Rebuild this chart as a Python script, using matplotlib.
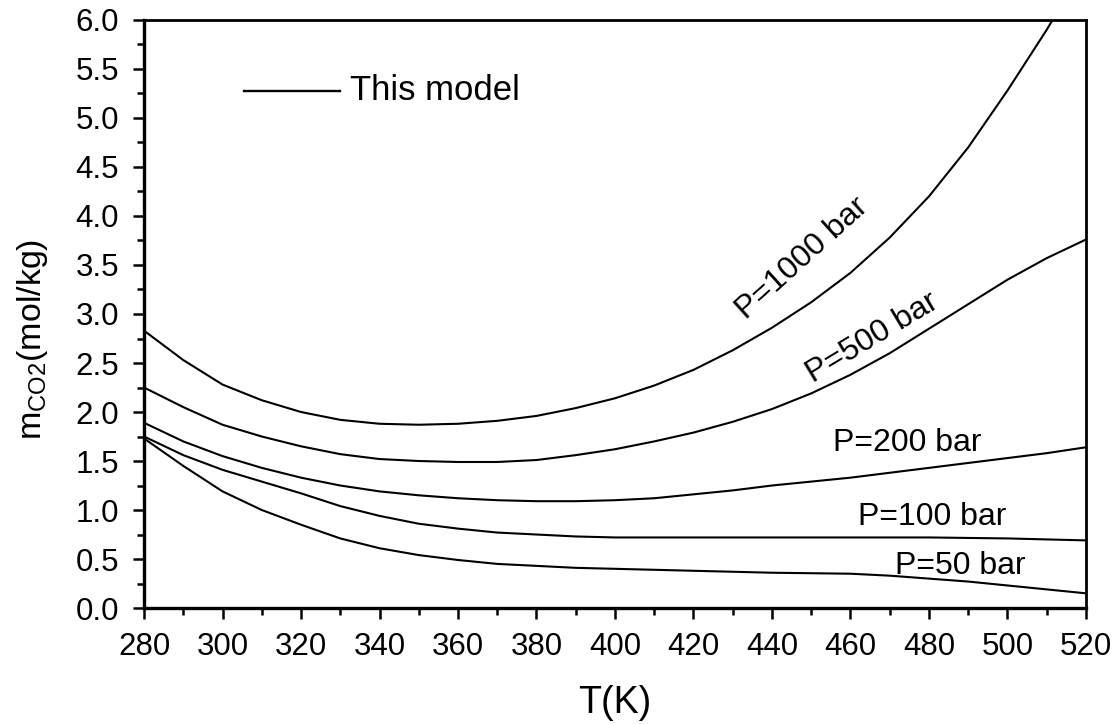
import matplotlib
matplotlib.use("Agg")
import matplotlib.pyplot as plt
from matplotlib.ticker import MultipleLocator, FormatStrFormatter

plt.rcParams['font.family'] = ['Liberation Sans', 'DejaVu Sans']
plt.rcParams['mathtext.default'] = 'regular'

# CO2 solubility in water vs temperature at several pressures
T_1000 = [280, 290, 300, 310, 320, 330, 340, 350, 360, 370, 380, 390, 400,
          410, 420, 430, 440, 450, 460, 470, 480, 490, 500, 510, 513]
m_1000 = [2.83, 2.53, 2.28, 2.12, 2.00, 1.92, 1.88, 1.87, 1.88, 1.91, 1.96, 2.04, 2.14,
          2.27, 2.43, 2.63, 2.86, 3.12, 3.42, 3.78, 4.20, 4.70, 5.28, 5.90, 6.10]

T_500 = [280, 290, 300, 310, 320, 330, 340, 350, 360, 370, 380, 390, 400,
         410, 420, 430, 440, 450, 460, 470, 480, 490, 500, 510, 520]
m_500 = [2.25, 2.05, 1.87, 1.75, 1.65, 1.57, 1.52, 1.50, 1.49, 1.49, 1.51, 1.56, 1.62,
         1.70, 1.79, 1.90, 2.03, 2.19, 2.38, 2.60, 2.85, 3.10, 3.35, 3.57, 3.76]

T_200 = T_500
m_200 = [1.89, 1.70, 1.55, 1.43, 1.33, 1.25, 1.19, 1.15, 1.12, 1.10, 1.09, 1.09, 1.10,
         1.12, 1.16, 1.20, 1.25, 1.29, 1.33, 1.38, 1.43, 1.48, 1.53, 1.58, 1.64]

T_100 = [280, 290, 300, 310, 320, 330, 340, 350, 360, 370, 380, 390, 400,
         420, 440, 460, 480, 500, 520]
m_100 = [1.75, 1.56, 1.41, 1.29, 1.17, 1.04, 0.94, 0.86, 0.81, 0.77, 0.75, 0.73, 0.72,
         0.72, 0.72, 0.72, 0.72, 0.71, 0.69]

T_50 = [280, 290, 300, 310, 320, 330, 340, 350, 360, 370, 380, 390, 400,
        420, 440, 460, 470, 480, 490, 500, 510, 520]
m_50 = [1.73, 1.45, 1.19, 1.00, 0.85, 0.71, 0.61, 0.54, 0.49, 0.45, 0.43, 0.41, 0.40,
        0.38, 0.36, 0.35, 0.33, 0.30, 0.27, 0.23, 0.19, 0.15]

curves = [(T_1000, m_1000), (T_500, m_500), (T_200, m_200), (T_100, m_100), (T_50, m_50)]

# label text, position (T, m), rotation
labels = [("P=1000 bar", 447.7, 3.57, 42),
          ("P=500 bar", 465.5, 2.76, 31),
          ("P=200 bar", 474.4, 1.68, 0),
          ("P=100 bar", 480.8, 0.93, 0),
          ("P=50 bar", 487.9, 0.43, 0)]

fig = plt.figure(figsize=(11.2, 7.24), dpi=100)
ax = fig.add_axes([0.1286, 0.1602, 0.8410, 0.8122])

for T, m in curves:
    ax.plot(T, m, color='black', lw=1.5)

for txt, x, y, rot in labels:
    ax.text(x, y, txt, fontsize=23, rotation=rot, ha='center', va='center',
            rotation_mode='anchor')

# legend entry drawn by hand
ax.plot([305.5, 330], [5.28, 5.28], color='black', lw=1.7)
ax.text(332.5, 5.28, "This model", fontsize=25, va='center', ha='left')

ax.set_xlim(280, 520)
ax.set_ylim(0, 6.0)
ax.xaxis.set_major_locator(MultipleLocator(20))
ax.xaxis.set_minor_locator(MultipleLocator(10))
ax.yaxis.set_major_locator(MultipleLocator(0.5))
ax.yaxis.set_minor_locator(MultipleLocator(0.25))
ax.yaxis.set_major_formatter(FormatStrFormatter('%.1f'))

ax.tick_params(which='both', direction='out', top=False, right=False, width=1.8,
               labelsize=22.5)
ax.tick_params(which='major', length=8)
ax.tick_params(which='minor', length=5)
ax.tick_params(axis='x', pad=9)
ax.tick_params(axis='y', pad=10)

for side in ['left', 'bottom']:
    ax.spines[side].set_linewidth(2.4)
for side in ['top', 'right']:
    ax.spines[side].set_linewidth(2.0)

ax.set_xlabel("T(K)", fontsize=27, labelpad=17)
ax.set_ylabel("m$_{CO2}$(mol/kg)", fontsize=24.5)
ax.yaxis.set_label_coords(-0.10, 0.456)

fig.savefig("out.png", dpi=100)
